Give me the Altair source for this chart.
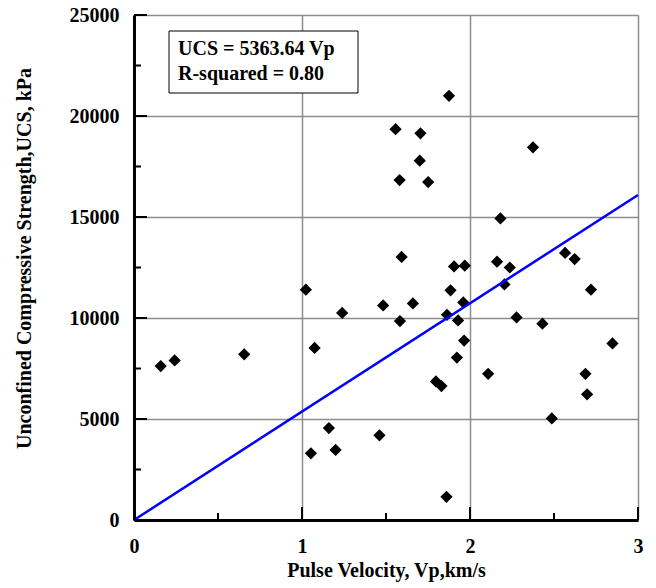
import altair as alt
import pandas as pd

# Data
vp = [1.875, 1.557, 1.705, 1.701, 1.581, 1.751, 2.375, 2.181, 1.593, 1.905,
      1.969, 2.161, 2.237, 2.566, 2.623, 1.023, 1.239, 1.483, 0.159, 0.242,
      0.656, 1.075, 1.160, 1.053, 1.200, 1.461, 1.660, 1.884, 1.960, 2.205,
      2.720, 1.583, 1.863, 1.929, 2.277, 2.431, 2.848, 1.965, 1.922, 2.108,
      2.687, 2.697, 1.797, 1.830, 2.487, 1.860]
ucs = [21000, 19350, 19140, 17790, 16830, 16730, 18450, 14930, 13020, 12550,
       12590, 12790, 12500, 13220, 12920, 11400, 10250, 10620, 7620, 7900,
       8200, 8520, 4550, 3300, 3470, 4190, 10720, 11370, 10770, 11660,
       11400, 9850, 10160, 9880, 10030, 9720, 8740, 8880, 8040, 7240,
       7240, 6220, 6860, 6630, 5030, 1150]

slope = 5363.64
fit_x = [0.0, 3.0]
fit_y = [slope * v for v in fit_x]

x_major = [0, 1, 2, 3]
x_minor = [0.5, 1.5, 2.5]
y_major = [0, 5000, 10000, 15000, 20000, 25000]
y_minor = [2500, 7500, 12500, 17500, 22500]

eq_line1 = "UCS = 5363.64 Vp"
eq_line2 = "R-squared = 0.80"

W, H = 504, 505
FONT = "Liberation Serif"

pts = pd.DataFrame({"vp": vp, "ucs": ucs})
fit = pd.DataFrame({"vp": fit_x, "ucs": fit_y})

xs = alt.Scale(domain=[0, 3], nice=False, zero=False)
ys = alt.Scale(domain=[0, 25000], nice=False, zero=False)

xaxis = alt.Axis(values=x_major, format="d", grid=True, gridColor="#8c8c8c", gridWidth=1.5,
                 domainColor="black", domainWidth=3, ticks=False,
                 labelFont=FONT, labelFontWeight="bold", labelFontSize=20,
                 labelColor="black", labelPadding=16, labelFlush=False,
                 title="Pulse Velocity, Vp,km/s", titleFont=FONT,
                 titleFontWeight="bold", titleFontSize=20, titleColor="black",
                 titleY=56, titleBaseline="alphabetic")
yaxis = alt.Axis(values=y_major, format="d", grid=True, gridColor="#8c8c8c", gridWidth=1.5,
                 domainColor="black", domainWidth=3, ticks=False,
                 labelFont=FONT, labelFontWeight="bold", labelFontSize=20,
                 labelColor="black", labelPadding=15, labelFlush=False,
                 title="Unconfined Compressive Strength,UCS, kPa", titleFont=FONT,
                 titleFontWeight="bold", titleFontSize=20, titleColor="black",
                 titleX=-104, titleY=243, titleAngle=-90, titleAlign="center",
                 titleBaseline="alphabetic")

base_pts = alt.Chart(pts).mark_point(shape="diamond", filled=True, color="black",
                                      size=150, opacity=1).encode(
    x=alt.X("vp:Q", scale=xs, axis=xaxis),
    y=alt.Y("ucs:Q", scale=ys, axis=yaxis),
)

line = alt.Chart(fit).mark_line(color="#0000ff", strokeWidth=2.5).encode(
    x=alt.X("vp:Q", scale=xs), y=alt.Y("ucs:Q", scale=ys))

xmaj = alt.Chart(pd.DataFrame({"vp": x_major})).mark_rule(color="black", strokeWidth=2).encode(
    x=alt.X("vp:Q", scale=xs), y=alt.value(H), y2=alt.value(H - 13))
xmin = alt.Chart(pd.DataFrame({"vp": x_minor})).mark_rule(color="black", strokeWidth=2).encode(
    x=alt.X("vp:Q", scale=xs), y=alt.value(H), y2=alt.value(H - 7))
ymaj = alt.Chart(pd.DataFrame({"ucs": y_major})).mark_rule(color="black", strokeWidth=2).encode(
    y=alt.Y("ucs:Q", scale=ys), x=alt.value(0), x2=alt.value(13))
ymin = alt.Chart(pd.DataFrame({"ucs": y_minor})).mark_rule(color="black", strokeWidth=2).encode(
    y=alt.Y("ucs:Q", scale=ys), x=alt.value(0), x2=alt.value(7))

box = alt.Chart(pd.DataFrame({"a": [0]})).mark_rect(
    fill="white", stroke="black", strokeWidth=1).encode(
    x=alt.value(35), x2=alt.value(224), y=alt.value(16), y2=alt.value(78))

def eq_text(s, ypix):
    return alt.Chart(pd.DataFrame({"t": [s]})).mark_text(
        font=FONT, fontWeight="bold", fontSize=20, color="black",
        align="left", baseline="alphabetic").encode(
        text="t:N", x=alt.value(44), y=alt.value(ypix))

chart = alt.layer(base_pts, line, xmaj, xmin, ymaj, ymin, box,
                  eq_text(eq_line1, 40), eq_text(eq_line2, 65)).properties(
    width=W, height=H,
    autosize=alt.AutoSizeParams(type="none"),
    padding={"left": 126, "top": 7, "right": 10, "bottom": 68},
).configure_view(stroke=None).configure(background="white")

chart.save("out.html", embed_options={"renderer": "svg", "actions": False})
